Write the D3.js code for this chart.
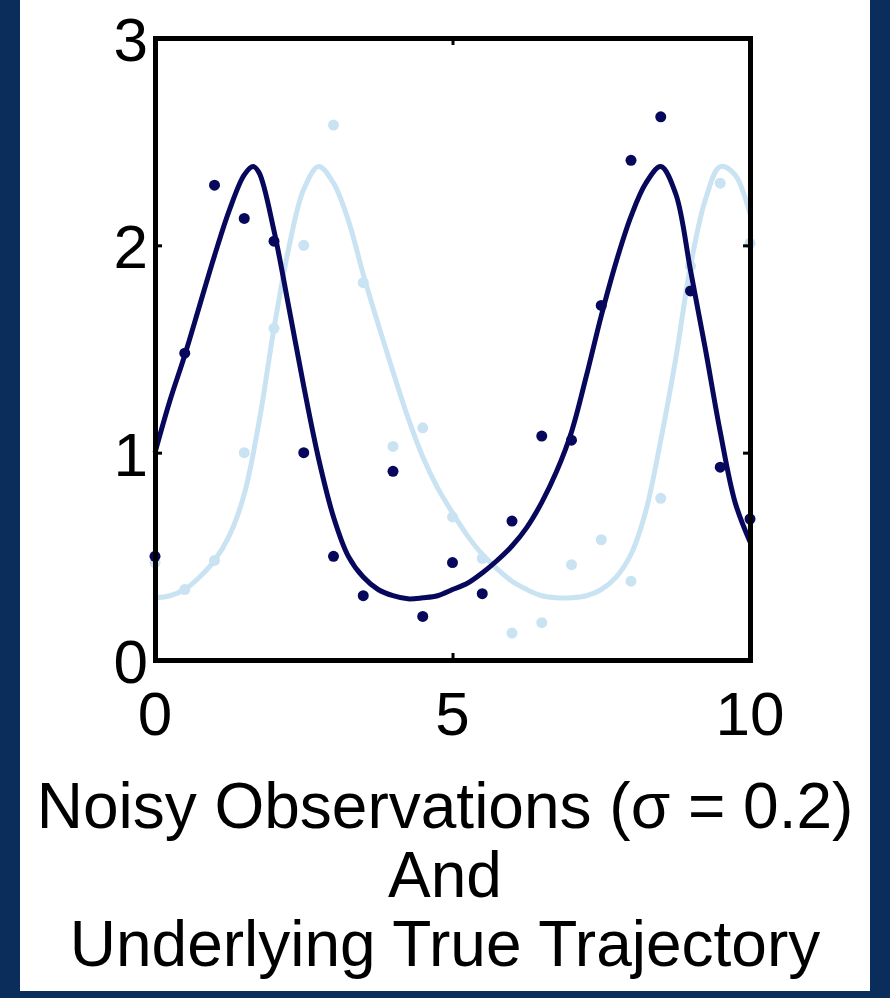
<!DOCTYPE html>
<html>
  <head>
    <title>Noisy Observations</title>
    <style type="text/css">
        body { margin: 0; background: #0b2d5c; }
        svg { display: block; }
        text { font-family: "Liberation Sans", Arial, Helvetica, sans-serif; fill: #000; }
    </style>
  </head>
  <body>
    <svg width="890" height="998"></svg>
    <script src="https://d3js.org/d3.v7.min.js"></script>
    <script>

    // Observation times and noisy values
    var obsTimes = [0, 0.5, 1, 1.5, 2, 2.5, 3, 3.5, 4, 4.5, 5, 5.5, 6, 6.5, 7, 7.5, 8, 8.5, 9, 9.5, 10];
    var obsDark  = [0.50, 1.48, 2.29, 2.13, 2.02, 1.00, 0.50, 0.31, 0.91, 0.21, 0.47, 0.32, 0.67, 1.08, 1.06, 1.71, 2.41, 2.62, 1.78, 0.93, 0.68];
    var obsLight = [0.47, 0.34, 0.48, 1.00, 1.60, 2.00, 2.58, 1.82, 1.03, 1.12, 0.69, 0.49, 0.13, 0.18, 0.46, 0.58, 0.38, 0.78, 1.90, 2.30, 2.01];

    // True trajectories
    var trueDarkT = [0, 0.25, 0.5, 0.75, 1, 1.25, 1.5, 1.65, 1.75, 2, 2.25, 2.5, 2.75, 3, 3.25, 3.5, 3.75, 4, 4.25, 4.5, 4.75, 5,
                     5.25, 5.5, 5.75, 6, 6.25, 6.5, 6.75, 7, 7.25, 7.5, 7.75, 8, 8.25, 8.5, 8.75, 9, 9.25, 9.5, 9.75, 10];
    var trueDark  = [1.00, 1.25, 1.47, 1.71, 1.95, 2.17, 2.34, 2.38, 2.35, 2.07, 1.70, 1.32, 0.97, 0.69, 0.50, 0.40, 0.34, 0.31, 0.295, 0.30, 0.31, 0.34,
                     0.37, 0.42, 0.48, 0.55, 0.64, 0.76, 0.91, 1.10, 1.37, 1.66, 1.92, 2.14, 2.30, 2.38, 2.25, 1.88, 1.50, 1.10, 0.76, 0.57];
    var trueLightT = [0, 0.25, 0.5, 0.75, 1, 1.25, 1.5, 1.75, 2, 2.25, 2.5, 2.75, 3, 3.25, 3.5, 3.75, 4, 4.25, 4.5, 4.75, 5,
                      5.25, 5.5, 5.75, 6, 6.25, 6.5, 6.75, 7, 7.25, 7.5, 7.75, 8, 8.25, 8.5, 8.75, 9, 9.25, 9.5, 9.75, 10];
    var trueLight  = [0.30, 0.31, 0.34, 0.40, 0.48, 0.60, 0.80, 1.15, 1.60, 1.99, 2.27, 2.38, 2.30, 2.12, 1.86, 1.62, 1.39, 1.17, 0.98, 0.83, 0.71,
                      0.60, 0.51, 0.44, 0.38, 0.34, 0.31, 0.30, 0.30, 0.31, 0.34, 0.40, 0.51, 0.72, 1.06, 1.45, 1.90, 2.22, 2.38, 2.34, 2.15];

    var xTicks = [0, 5, 10];
    var yTicks = [0, 1, 2, 3];
    var titleLines = ["Noisy Observations (\u03c3 = 0.2)", "And", "Underlying True Trajectory"];

    var darkColor = "#07085c",
        lightColor = "#c9e3f3";

    var svg = d3.select("svg");

    // white panel inside navy frame
    svg.append("rect")
        .attr("x", 20).attr("y", 0)
        .attr("width", 850).attr("height", 991)
        .attr("fill", "#fff");

    var x = d3.scaleLinear().domain([0, 10]).range([155, 750]);
    var y = d3.scaleLinear().domain([0, 3]).range([660, 38]);

    var plot = svg.append("g");

    var line = d3.line()
        .x(function(d) { return x(d[0]); })
        .y(function(d) { return y(d[1]); })
        .curve(d3.curveCatmullRom.alpha(0.5));

    // light series first, dark on top
    plot.append("path")
        .datum(d3.zip(trueLightT, trueLight))
        .attr("d", line)
        .attr("fill", "none")
        .attr("stroke", lightColor)
        .attr("stroke-width", 5);

    plot.selectAll("circle.light")
        .data(d3.zip(obsTimes, obsLight))
        .enter().append("circle")
        .attr("class", "light")
        .attr("cx", function(d) { return x(d[0]); })
        .attr("cy", function(d) { return y(d[1]); })
        .attr("r", 5.5)
        .attr("fill", lightColor);

    plot.append("path")
        .datum(d3.zip(trueDarkT, trueDark))
        .attr("d", line)
        .attr("fill", "none")
        .attr("stroke", darkColor)
        .attr("stroke-width", 5);

    plot.selectAll("circle.dark")
        .data(d3.zip(obsTimes, obsDark))
        .enter().append("circle")
        .attr("class", "dark")
        .attr("cx", function(d) { return x(d[0]); })
        .attr("cy", function(d) { return y(d[1]); })
        .attr("r", 5.5)
        .attr("fill", darkColor);

    // axes box
    var tickLen = 7;
    var bottomAxis = d3.axisBottom(x).tickValues(xTicks).tickSize(-tickLen).tickSizeOuter(0).tickFormat("");
    var topAxis = d3.axisTop(x).tickValues(xTicks).tickSize(-tickLen).tickSizeOuter(0).tickFormat("");
    var leftAxis = d3.axisLeft(y).tickValues(yTicks).tickSize(-tickLen).tickSizeOuter(0).tickFormat("");
    var rightAxis = d3.axisRight(y).tickValues(yTicks).tickSize(-tickLen).tickSizeOuter(0).tickFormat("");

    svg.append("g").attr("transform", "translate(0,660)").call(bottomAxis);
    svg.append("g").attr("transform", "translate(0,38)").call(topAxis);
    svg.append("g").attr("transform", "translate(155,0)").call(leftAxis);
    svg.append("g").attr("transform", "translate(750,0)").call(rightAxis);

    svg.selectAll(".domain").attr("stroke", "#000").attr("stroke-width", 5).attr("stroke-linecap", "square");
    svg.selectAll(".tick line").attr("stroke", "#000").attr("stroke-width", 3);

    // tick labels
    svg.selectAll("text.xlab")
        .data(xTicks)
        .enter().append("text")
        .attr("class", "xlab")
        .attr("x", function(d) { return x(d); })
        .attr("y", 735)
        .attr("text-anchor", "middle")
        .style("font-size", "62px")
        .text(function(d) { return d; });

    svg.selectAll("text.ylab")
        .data(yTicks)
        .enter().append("text")
        .attr("class", "ylab")
        .attr("x", 148)
        .attr("y", function(d) { return y(d) + 23; })
        .attr("text-anchor", "end")
        .style("font-size", "62px")
        .text(function(d) { return d; });

    // caption
    svg.selectAll("text.title")
        .data(titleLines)
        .enter().append("text")
        .attr("class", "title")
        .attr("x", 445)
        .attr("y", function(d, i) { return 828 + i * 69; })
        .attr("text-anchor", "middle")
        .style("font-size", "64px")
        .text(function(d) { return d; });

    </script>
  </body>
</html>
